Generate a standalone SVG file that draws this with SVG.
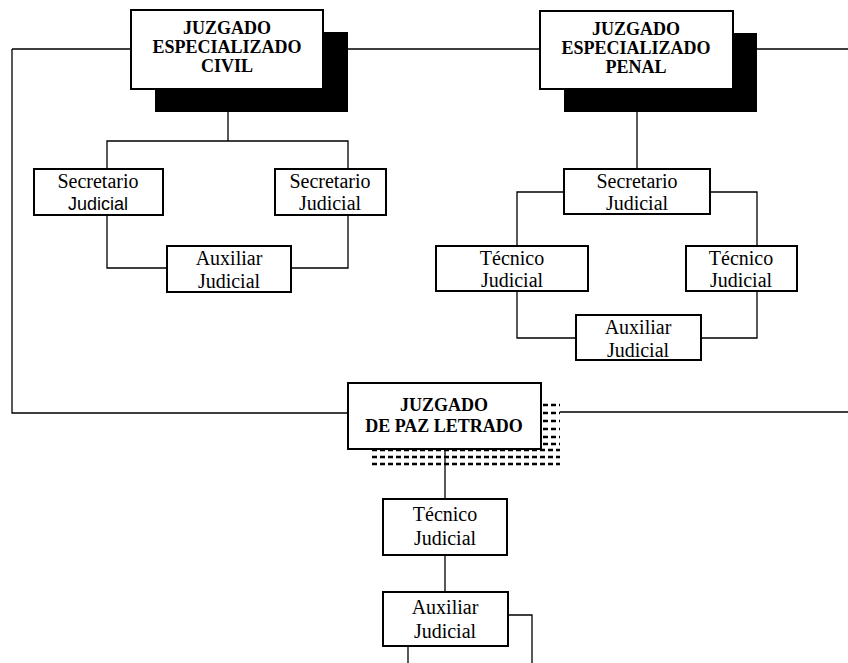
<svg xmlns="http://www.w3.org/2000/svg" width="848" height="663" viewBox="0 0 848 663">
<style>
.box{fill:#fff;stroke:#000;stroke-width:2}
.sh{fill:#000}
.ln{fill:none;stroke:#000;stroke-width:1.3}
.hd{font-family:'Liberation Serif','Times New Roman','DejaVu Serif',serif;font-weight:bold;font-size:18px;text-anchor:middle;fill:#000}
.tx{font-family:'Liberation Serif','Times New Roman','DejaVu Serif',serif;font-size:20px;text-anchor:middle;fill:#000}
.sx{font-family:'Liberation Sans',Arial,sans-serif;font-size:18px;text-anchor:middle;fill:#000}
.dot{stroke:#000;stroke-width:2.5;stroke-dasharray:5 3;fill:none}
</style>
<rect width="848" height="663" fill="#fff"/>
<g id="connectors">
<path class="ln" d="M12,49 H131 M348,49 H540 M757,49 H848"/>
<path class="ln" d="M12,49 V413 H348 M560,412 H848"/>
<path class="ln" d="M228,112 V141 M107,169 V141 H348 V169"/>
<path class="ln" d="M107,215 V268 H167 M291,268 H348 V215"/>
<path class="ln" d="M637,112 V169"/>
<path class="ln" d="M564,192 H517 V246 M710,192 H757 V246"/>
<path class="ln" d="M517,291 V338 H576 M701,338 H757 V291"/>
<path class="ln" d="M445,449 V499 M445,555 V592"/>
<path class="ln" d="M508,615 H532 V663 M408,646 V663"/>
</g>
<g id="civil">
<rect class="sh" x="155" y="32" width="193" height="80"/>
<rect class="box" x="131" y="10" width="192" height="79"/>
<text class="hd" x="227" y="34">JUZGADO</text>
<text class="hd" x="227" y="53">ESPECIALIZADO</text>
<text class="hd" x="227" y="72">CIVIL</text>
</g>
<g id="penal">
<rect class="sh" x="564" y="33" width="193" height="79"/>
<rect class="box" x="540" y="11" width="193" height="78"/>
<text class="hd" x="636" y="35">JUZGADO</text>
<text class="hd" x="636" y="54">ESPECIALIZADO</text>
<text class="hd" x="636" y="73">PENAL</text>
</g>
<g id="sec-civil-1">
<rect class="box" x="34" y="169" width="129" height="46"/>
<text class="tx" x="98" y="188">Secretario</text>
<text class="sx" x="98" y="210">Judicial</text>
</g>
<g id="sec-civil-2">
<rect class="box" x="275" y="169" width="111" height="46"/>
<text class="tx" x="330" y="188">Secretario</text>
<text class="tx" x="330" y="210">Judicial</text>
</g>
<g id="aux-civil">
<rect class="box" x="167" y="246" width="124" height="46"/>
<text class="tx" x="229" y="265">Auxiliar</text>
<text class="tx" x="229" y="288">Judicial</text>
</g>
<g id="sec-penal">
<rect class="box" x="564" y="169" width="146" height="45"/>
<text class="tx" x="637" y="188">Secretario</text>
<text class="tx" x="637" y="210">Judicial</text>
</g>
<g id="tec-penal-1">
<rect class="box" x="436" y="246" width="152" height="45"/>
<text class="tx" x="512" y="265">Técnico</text>
<text class="tx" x="512" y="287">Judicial</text>
</g>
<g id="tec-penal-2">
<rect class="box" x="686" y="246" width="111" height="45"/>
<text class="tx" x="741" y="265">Técnico</text>
<text class="tx" x="741" y="287">Judicial</text>
</g>
<g id="aux-penal">
<rect class="box" x="576" y="315" width="125" height="45"/>
<text class="tx" x="638" y="334">Auxiliar</text>
<text class="tx" x="638" y="357">Judicial</text>
</g>
<g id="paz">
<path class="dot" d="M543,405 H560 M543,413 H560 M543,421 H560 M543,429 H560 M543,437 H560 M543,444 H560 M372,450 H560 M372,457 H560 M372,464 H560"/>
<rect class="box" x="348" y="383" width="193" height="66"/>
<text class="hd" x="444" y="411">JUZGADO</text>
<text class="hd" x="444" y="432">DE PAZ LETRADO</text>
</g>
<g id="tec-paz">
<rect class="box" x="383" y="499" width="124" height="56"/>
<text class="tx" x="445" y="521">Técnico</text>
<text class="tx" x="445" y="545">Judicial</text>
</g>
<g id="aux-paz">
<rect class="box" x="383" y="592" width="125" height="54"/>
<text class="tx" x="445" y="614">Auxiliar</text>
<text class="tx" x="445" y="638">Judicial</text>
</g>
</svg>
